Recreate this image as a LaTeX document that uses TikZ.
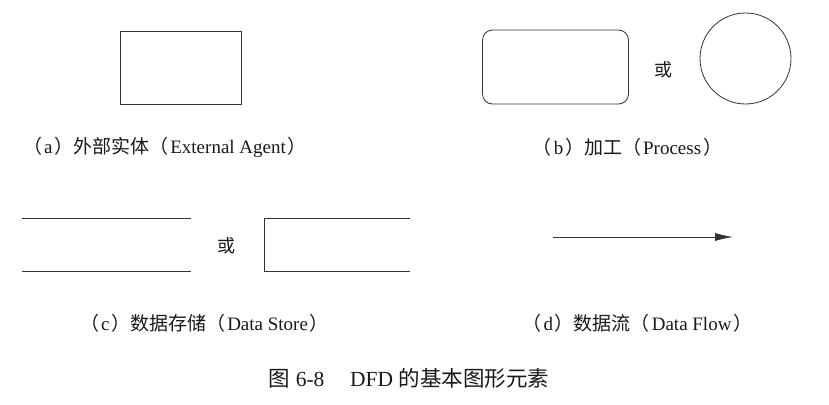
\documentclass[tikz,border=0pt]{standalone}
\usepackage{fontspec}
\usepackage{xcolor}
\usepackage{tikz}
\usetikzlibrary{arrows.meta}
\setmainfont{Liberation Serif}
\newfontfamily\cjk{Noto Sans CJK SC}
\newcommand{\zh}[1]{{\cjk #1}}
\newcommand{\lp}{\zh{（}\hspace{0.1em}}
\newcommand{\rp}{\hspace{0.1em}\zh{）}}

\tikzset{
  shapeline/.style={line width=0.8pt, draw=black!80},
  entitybox/.style={shapeline, rectangle, minimum width=121pt, minimum height=73pt, inner sep=0pt},
  processbox/.style={shapeline, rectangle, rounded corners=10pt, minimum width=146pt, minimum height=74pt, inner sep=0pt},
  processcircle/.style={shapeline, circle, minimum size=91pt, inner sep=0pt},
  caplabel/.style={font=\fontsize{19}{21}\selectfont, text=black!90, inner sep=0pt},
  ortext/.style={font=\cjk\fontsize{18}{20}\selectfont, text=black!90, inner sep=0pt}
}

\begin{document}
\begin{tikzpicture}[x=1pt,y=-1pt]
        \useasboundingbox (0,0) rectangle (829,404);
        %画外部实体
        \node[entitybox] (agent) at (180.5,67.5) {};
        \node[caplabel] (agentlabel) at (165,147) {\lp a\rp\zh{外部实体}\lp External Agent\rp};
        %画加工的两种画法
        \node[processbox] (procrect) at (555.5,67) {};
        \node[ortext] (orb) at (663,70) {或};
        \node[processcircle] (proccirc) at (745.5,58.5) {};
        \node[caplabel] (proclabel) at (627.5,147) {\lp b\rp\zh{加工}\lp Process\rp};
        %画数据存储
        \draw[shapeline] (22,218) -- (191,218);
        \draw[shapeline] (22,271) -- (191,271);
        \node[ortext] (orc) at (226,246) {或};
        \draw[shapeline] (410,218) -- (264,218) -- (264,271) -- (410,271);
        \node[caplabel] (storelabel) at (204.5,323) {\lp c\rp\zh{数据存储}\lp Data Store\rp};
        %画数据流
        \coordinate (flowstart) at (553,237);
        \coordinate (flowend) at (733,237);
        \draw[shapeline, -{Latex[length=18pt, width=8pt]}] (flowstart) -- (flowend);
        \node[caplabel] (flowlabel) at (637.5,323) {\lp d\rp\zh{数据流}\lp Data Flow\rp};
        %图题
        \node[caplabel, font=\fontsize{21.5}{23}\selectfont] (title) at (409,378) {\zh{图} 6-8\hspace{1.2em}DFD \zh{的基本图形元素}};
\end{tikzpicture}
\end{document}
